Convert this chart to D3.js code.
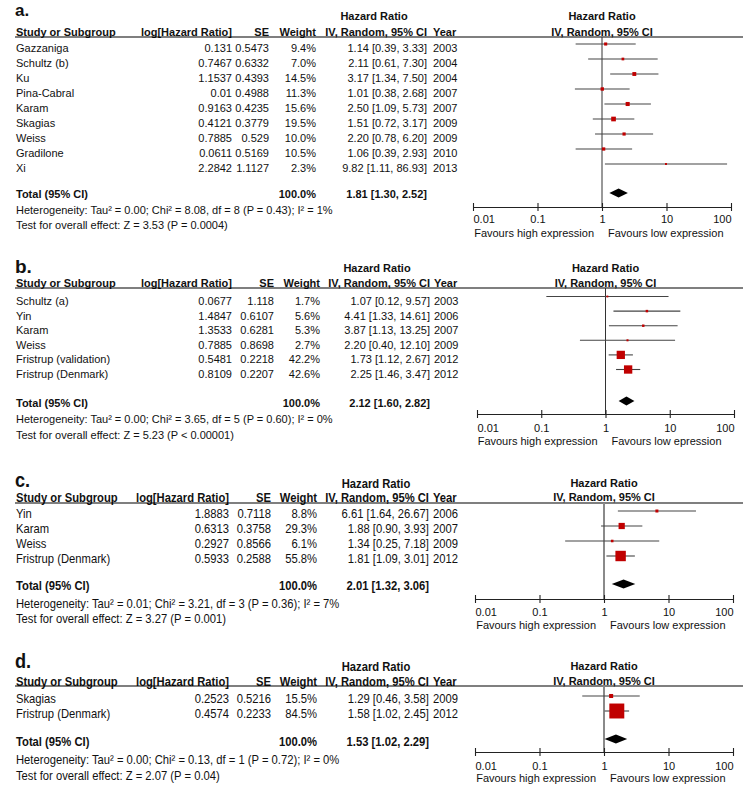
<!DOCTYPE html>
<html><head><meta charset="utf-8">
<script src="https://cdn.jsdelivr.net/npm/d3@7"></script>
<style>body{margin:0;background:#fff} svg{display:block} text{font-family:"Liberation Sans",Arial,sans-serif;fill:#111}</style>
</head><body>
<svg id="chart" width="749" height="791"></svg>
<script>
// ---------- Panel a ----------
const studiesA = ["Gazzaniga","Schultz (b)","Ku","Pina-Cabral","Karam","Skagias","Weiss","Gradilone","Xi"];
const logHrA = [0.131,0.7467,1.1537,0.01,0.9163,0.4121,0.7885,0.0611,2.2842];
const seA = [0.5473,0.6332,0.4393,0.4988,0.4235,0.3779,0.529,0.5169,1.1127];
const weightA = [9.4,7.0,14.5,11.3,15.6,19.5,10.0,10.5,2.3];
const hrA = [1.14,2.11,3.17,1.01,2.50,1.51,2.20,1.06,9.82];
const lowA = [0.39,0.61,1.34,0.38,1.09,0.72,0.78,0.39,1.11];
const highA = [3.33,7.30,7.50,2.68,5.73,3.17,6.20,2.93,86.93];
const yearA = [2003,2004,2004,2007,2007,2009,2009,2010,2013];
// ---------- Panel b ----------
const studiesB = ["Schultz (a)","Yin","Karam","Weiss","Fristrup (validation)","Fristrup (Denmark)"];
const logHrB = [0.0677,1.4847,1.3533,0.7885,0.5481,0.8109];
const seB = [1.118,0.6107,0.6281,0.8698,0.2218,0.2207];
const weightB = [1.7,5.6,5.3,2.7,42.2,42.6];
const hrB = [1.07,4.41,3.87,2.20,1.73,2.25];
const lowB = [0.12,1.33,1.13,0.40,1.12,1.46];
const highB = [9.57,14.61,13.25,12.10,2.67,3.47];
const yearB = [2003,2006,2007,2009,2012,2012];
// ---------- Panel c ----------
const studiesC = ["Yin","Karam","Weiss","Fristrup (Denmark)"];
const logHrC = [1.8883,0.6313,0.2927,0.5933];
const seC = [0.7118,0.3758,0.8566,0.2588];
const weightC = [8.8,29.3,6.1,55.8];
const hrC = [6.61,1.88,1.34,1.81];
const lowC = [1.64,0.90,0.25,1.09];
const highC = [26.67,3.93,7.18,3.01];
const yearC = [2006,2007,2009,2012];
// ---------- Panel d ----------
const studiesD = ["Skagias","Fristrup (Denmark)"];
const logHrD = [0.2523,0.4574];
const seD = [0.5216,0.2233];
const weightD = [15.5,84.5];
const hrD = [1.29,1.58];
const lowD = [0.46,1.02];
const highD = [3.58,2.45];
const yearD = [2009,2012];
// ---------- Totals / texts ----------
const panelLabels = ["a.","b.","c.","d."];
const totalHR = [1.81,2.12,2.01,1.53];
const totalLow = [1.30,1.60,1.32,1.02];
const totalHigh = [2.52,2.82,3.06,2.29];
const totalWeight = [100.0,100.0,100.0,100.0];
const hetTexts = [
  "Heterogeneity: Tau² = 0.00; Chi² = 8.08, df = 8 (P = 0.43); I² = 1%",
  "Heterogeneity: Tau² = 0.00; Chi² = 3.65, df = 5 (P = 0.60); I² = 0%",
  "Heterogeneity: Tau² = 0.01; Chi² = 3.21, df = 3 (P = 0.36); I² = 7%",
  "Heterogeneity: Tau² = 0.00; Chi² = 0.13, df = 1 (P = 0.72); I² = 0%"];
const testTexts = [
  "Test for overall effect: Z = 3.53 (P = 0.0004)",
  "Test for overall effect: Z = 5.23 (P < 0.00001)",
  "Test for overall effect: Z = 3.27 (P = 0.001)",
  "Test for overall effect: Z = 2.07 (P = 0.04)"];
const favLeftTexts = ["Favours high expression","Favours high expression","Favours high expression","Favours high expression"];
const favRightTexts = ["Favours low expression","Favours low epression","Favours low expression","Favours low expression"];
const tickValues = [0.01,0.1,1,10,100];
const tickLabels = ["0.01","0.1","1","10","100"];

const data = [
  {studies:studiesA,logHr:logHrA,se:seA,weight:weightA,hr:hrA,low:lowA,high:highA,year:yearA},
  {studies:studiesB,logHr:logHrB,se:seB,weight:weightB,hr:hrB,low:lowB,high:highB,year:yearB},
  {studies:studiesC,logHr:logHrC,se:seC,weight:weightC,hr:hrC,low:lowC,high:highC,year:yearC},
  {studies:studiesD,logHr:logHrD,se:seD,weight:weightD,hr:hrD,low:lowD,high:highD,year:yearD}
];

// layout (centres of text rows, axis positions)
const layouts = [
  {cond:false,labelY:16,labelSize:17,hr1:16,hdr:32,line:37,row0:48,step:15,markDy:-4,total:194.5,diaDy:-1.5,het:210,test:225.5,axis:207,tick:219,fav:233,x0:473,x1:731,colLog:232,colSE:269,colW:316,colCI:427,colYear:433,vColor:"#333",vW:1},
  {cond:false,labelY:273,labelSize:19,hr1:268,hdr:283,line:288,row0:301,step:14.6,markDy:-4.5,total:403,diaDy:-2,het:419,test:435,axis:414,tick:428,fav:441,x0:477,x1:734,colLog:232,colSE:274,colW:320,colCI:430,colYear:434,vColor:"#333",vW:1},
  {cond:true,labelY:487,labelSize:21,hr1:483,hdr:497,line:503,row0:513,step:15,markDy:-2,total:585,diaDy:-1,het:603,test:618,axis:599,tick:612,fav:625,x0:475,x1:733,colLog:229,colSE:271,colW:317,colCI:429,colYear:433,vColor:"#8a8a8a",vW:2},
  {cond:true,labelY:668,labelSize:21,hr1:666,hdr:681,line:686,row0:698,step:15,markDy:-2,total:741,diaDy:-2,het:759,test:775,axis:752,tick:766,fav:778,x0:475,x1:733,colLog:229,colSE:271,colW:317,colCI:429,colYear:433,vColor:"#8a8a8a",vW:2}
];

const svg = d3.select("#chart");
svg.append("rect").attr("width",749).attr("height",791).attr("fill","#fff");
const f2 = d3.format(".2f"), f1 = d3.format(".1f");
const sizeScale = d3.scaleLinear().domain([0,100]).range([1.6,17.4]);

data.forEach((p,k)=>{
  const L = layouts[k];
  const g = svg.append("g");
  const sx = L.cond ? 0.865 : 1;
  const fs = L.cond ? 13 : 11;
  const tg = g.append("g").attr("transform",`scale(${sx},1)`);
  function T(x,cy,s,anchor,bold,size){
    size = size || fs;
    return tg.append("text").attr("x",x/sx).attr("y",cy+size*0.36)
      .attr("text-anchor",anchor||"start").attr("font-weight",bold?"bold":"normal")
      .attr("font-size",size).text(s);
  }
  function P(x,cy,s,anchor,bold){
    return g.append("text").attr("x",x).attr("y",cy+4)
      .attr("text-anchor",anchor||"start").attr("font-weight",bold?"bold":"normal")
      .attr("font-size",11).text(s);
  }
  const x = d3.scaleLog().domain([0.01,100]).range([L.x0,L.x1]);
  const xm = (L.x0+L.x1)/2;

  // panel label
  tg.append("text").attr("x",15/sx).attr("y",L.labelY).attr("font-weight","bold")
    .attr("font-size",L.labelSize).text(panelLabels[k]);

  // headers
  T(L.colCI-53,L.hr1,"Hazard Ratio","middle",true);
  P(xm,L.hr1,"Hazard Ratio","middle",true);
  T(16,L.hdr,"Study or Subgroup","start",true);
  T(L.colLog,L.hdr,"log[Hazard Ratio]","end",true);
  T(L.colSE,L.hdr,"SE","end",true);
  T(L.colW,L.hdr,"Weight","end",true);
  T(L.colCI,L.hdr,"IV, Random, 95% CI","end",true);
  T(L.colYear,L.hdr,"Year","start",true);
  P(xm,L.hdr,"IV, Random, 95% CI","middle",true);
  g.append("line").attr("x1",15).attr("x2",743).attr("y1",L.line).attr("y2",L.line)
    .attr("stroke","#000").attr("stroke-width",1.2);

  // vertical line at 1
  g.append("line").attr("x1",x(1)).attr("x2",x(1)).attr("y1",L.line).attr("y2",L.axis)
    .attr("stroke",L.vColor).attr("stroke-width",L.vW);

  // study rows
  p.studies.forEach((s,i)=>{
    const cy = L.row0 + i*L.step;
    T(16,cy,s,"start",false);
    T(L.colLog,cy,String(p.logHr[i]),"end");
    T(L.colSE,cy,String(p.se[i]),"end");
    T(L.colW,cy,f1(p.weight[i])+"%","end");
    T(L.colCI,cy,`${f2(p.hr[i])} [${f2(p.low[i])}, ${f2(p.high[i])}]`,"end");
    T(L.colYear,cy,String(p.year[i]),"start");
    const my = cy + L.markDy;
    g.append("line").attr("x1",x(p.low[i])).attr("x2",x(p.high[i])).attr("y1",my).attr("y2",my)
      .attr("stroke","#444").attr("stroke-width",1.1);
    const sz = sizeScale(p.weight[i]);
    g.append("rect").attr("x",x(p.hr[i])-sz/2).attr("y",my-sz/2).attr("width",sz).attr("height",sz)
      .attr("fill","#c00000");
  });

  // total
  T(16,L.total,"Total (95% CI)","start",true);
  T(L.colW,L.total,f1(totalWeight[k])+"%","end",true);
  T(L.colCI,L.total,`${f2(totalHR[k])} [${f2(totalLow[k])}, ${f2(totalHigh[k])}]`,"end",true);
  T(16,L.het,hetTexts[k],"start",false);
  T(16,L.test,testTexts[k],"start",false);
  const dy = L.total + L.diaDy, h = 4.5;
  g.append("path").attr("d",`M${x(totalLow[k])},${dy}L${x(totalHR[k])},${dy-h}L${x(totalHigh[k])},${dy}L${x(totalHR[k])},${dy+h}Z`)
    .attr("fill","#000");

  // axis
  const ax = g.append("g").attr("transform",`translate(0,${L.axis})`)
    .call(d3.axisBottom(x).tickValues(tickValues).tickSizeInner(4).tickSizeOuter(0).tickFormat((d,i)=>tickLabels[i]));
  ax.select(".domain").attr("stroke","#222").attr("stroke-width",1.1);
  ax.selectAll(".tick line").attr("y1",-4).attr("y2",4).attr("stroke","#222").attr("stroke-width",1.1);
  ax.selectAll(".tick text").attr("font-size",11).attr("font-family","Liberation Sans, Arial, sans-serif")
    .attr("fill","#222").attr("dy",null).attr("y",L.tick - L.axis + 4)
    .attr("text-anchor",(d,i)=> i===0 ? "start" : (i===tickValues.length-1 ? "end" : "middle"));
  P(x(1)-8,L.fav,favLeftTexts[k],"end",false);
  P(x(1)+6,L.fav,favRightTexts[k],"start",false);
});
</script>
</body></html>
